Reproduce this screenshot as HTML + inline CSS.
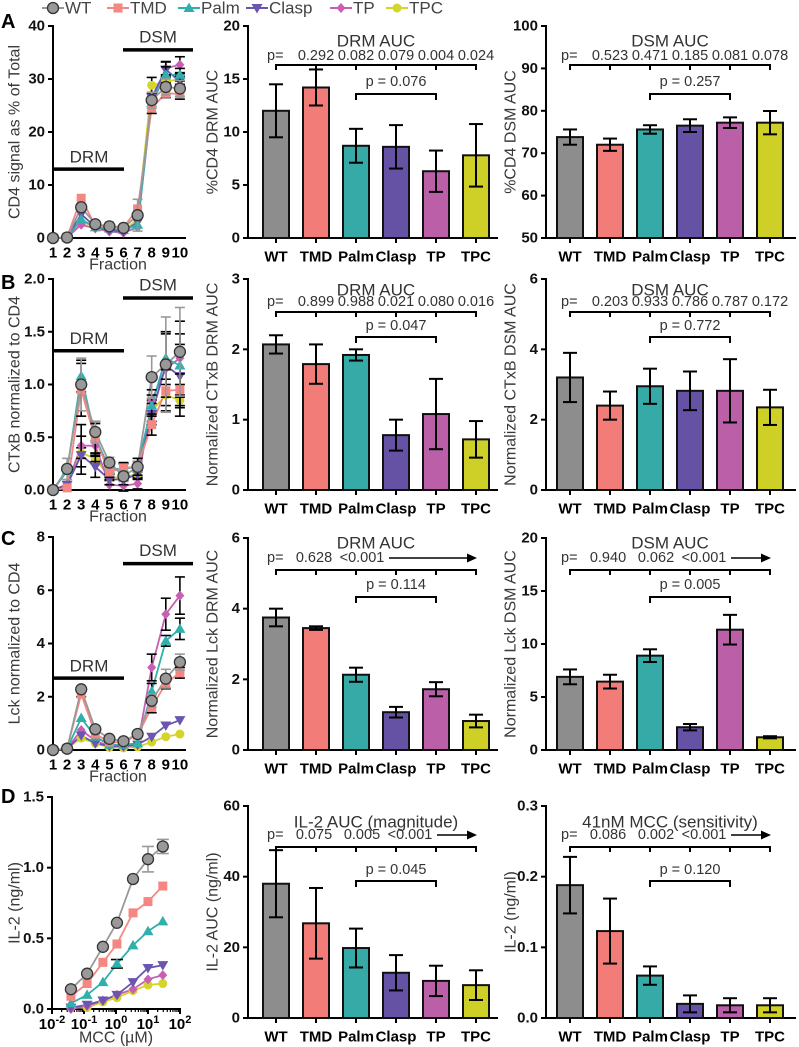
<!DOCTYPE html>
<html><head><meta charset="utf-8"><style>
body{margin:0;background:#fff}
svg{display:block;font-family:"Liberation Sans",Arial,sans-serif}
</style></head><body>
<svg id="fig" width="799" height="1047" viewBox="0 0 799 1047" xmlns="http://www.w3.org/2000/svg"></svg>
<script>
// ---------- data ----------
const groups=['WT','TMD','Palm','Clasp','TP','TPC'];
const fractions=[1,2,3,4,5,6,7,8,9,10];
const mccConc=[0.039,0.125,0.39,1.07,3.4,10,29];

const aLine=[[0,0.1,5.8,2.6,2.2,1.9,4.3,26,28.5,28.2],[0,0.2,7.5,2.3,2.3,2,5.5,24.5,27.3,27.2],[0,0.1,3.5,2,1.8,1.5,2.5,25.5,30.8,30.8],[0,0.1,4.5,2.1,1.5,1.2,3,26.5,31.8,29.5],[0,0.1,2.5,1.8,1.2,1,2,26,32,32.7],[0,0.1,3,2.2,1.8,1.4,3.5,28.8,29.5,30]];
const aLineErr=[[0,0,0.6,0,0,0,3,1.5,1.5,1.5],[0,0,0,0,0,0,0,1,0.8,1],[0,0,0,0,0,0,0,0,1.5,1.2],[0,0,0,0,0,0,0,0,1.5,1],[0,0,0,0,0,0,0,0,1.2,1.5],[0,0,0,0,0,0,0,1.5,1,1]];
const bLine=[[0,0.2,1.0,0.55,0.26,0.13,0.22,1.07,1.19,1.31],[0,0.02,0.95,0.48,0.17,0.21,0.22,0.62,0.94,0.95],[0,0.18,1.08,0.5,0.2,0.2,0.22,0.8,1.25,1.18],[0,0.05,0.33,0.22,0.1,0.1,0.15,0.72,1.18,1.08],[0,0.05,0.42,0.42,0.05,0.04,0.06,0.85,1.15,1.25],[0,0.05,0.35,0.3,0.12,0.12,0.15,0.75,0.9,0.85]];
const bLineErr=[[0,0.1,0.25,0.1,0.05,0.05,0.05,0.2,0.45,0.42],[0,0,0.25,0.15,0.05,0.05,0.08,0.1,0.2,0.15],[0,0,0.15,0.15,0.05,0.05,0.05,0.1,0.25,0.3],[0,0,0.18,0.1,0.05,0.05,0.05,0.1,0.3,0.3],[0,0,0.2,0.15,0.05,0.05,0.05,0.1,0.35,0.35],[0,0,0.05,0.05,0.03,0.03,0.03,0.1,0.15,0.15]];
const cLine=[[0,0.05,2.28,0.78,0.42,0.33,0.6,1.85,2.68,3.3],[0,0.05,2.1,0.6,0.3,0.3,0.55,1.6,2.5,2.9],[0,0.05,1.2,0.5,0.2,0.2,0.25,2.2,4.1,4.55],[0,0.05,0.55,0.25,0.15,0.15,0.2,0.5,0.92,1.12],[0,0.05,0.75,0.35,0.15,0.12,0.2,3.1,5.1,5.8],[0,0.05,0.45,0.25,0.1,0.08,0.12,0.3,0.5,0.6]];
const cLineErr=[[0,0,0.1,0.05,0.03,0.03,0.05,0.25,0.35,0.3],[0,0,0.1,0,0,0,0,0.2,0.2,0.2],[0,0,0,0,0,0,0,0.3,0.2,0.4],[0,0,0,0,0,0,0,0,0,0],[0,0,0,0,0,0,0,0.5,0.6,0.7],[0,0,0,0,0,0,0,0,0,0]];
const dLine=[[0.14,0.25,0.44,0.61,0.92,1.06,1.15],[0.09,0.18,0.33,0.46,0.68,0.76,0.87],[0.04,0.1,0.19,0.32,0.45,0.55,0.62],[0.01,0.03,0.06,0.1,0.19,0.29,0.31],[0.0,0.02,0.06,0.1,0.14,0.21,0.24],[0.01,0.01,0.05,0.08,0.13,0.17,0.18]];
const dLineErr=[[0,0,0,0,0,0.09,0.05],[0,0,0,0,0,0,0],[0,0,0,0.03,0,0,0],[0,0,0,0,0,0,0],[0,0,0,0,0,0,0],[0,0,0,0,0,0,0]];

const aMidMean=[12,14.2,8.7,8.6,6.3,7.8];   const aMidErr=[2.5,1.7,1.6,2.05,1.95,2.95];
const aRightMean=[73.8,72,75.6,76.5,77.2,77.2]; const aRightErr=[1.8,1.45,1.0,1.5,1.25,2.75];
const bMidMean=[2.07,1.79,1.92,0.78,1.08,0.72]; const bMidErr=[0.13,0.28,0.08,0.22,0.5,0.26];
const bRightMean=[3.2,2.4,2.95,2.82,2.82,2.35]; const bRightErr=[0.7,0.4,0.5,0.55,0.9,0.5];
const cMidMean=[3.75,3.45,2.13,1.07,1.72,0.82]; const cMidErr=[0.25,0.05,0.2,0.15,0.2,0.18];
const cRightMean=[6.9,6.45,8.9,2.15,11.35,1.2]; const cRightErr=[0.7,0.65,0.6,0.3,1.4,0.1];
const dMidMean=[38,26.8,19.8,12.8,10.5,9.3];   const dMidErr=[9.5,10,5.5,5,4.3,4.2];
const dRightMean=[0.188,0.123,0.06,0.02,0.018,0.018]; const dRightErr=[0.04,0.046,0.013,0.012,0.01,0.01];

const aMidP=['0.292','0.082','0.079','0.004','0.024']; const aMidP2='p = 0.076';
const aRightP=['0.523','0.471','0.185','0.081','0.078']; const aRightP2='p = 0.257';
const bMidP=['0.899','0.988','0.021','0.080','0.016']; const bMidP2='p = 0.047';
const bRightP=['0.203','0.933','0.786','0.787','0.172']; const bRightP2='p = 0.772';
const cMidP=['0.628','<0.001']; const cMidP2='p = 0.114';
const cRightP=['0.940','0.062','<0.001']; const cRightP2='p = 0.005';
const dMidP=['0.075','0.005','<0.001']; const dMidP2='p = 0.045';
const dRightP=['0.086','0.002','<0.001']; const dRightP2='p = 0.120';

// ---------- helpers ----------
const NS='http://www.w3.org/2000/svg';
const svg=document.getElementById('fig');
const barFill=['#8d8d8d','#f17c78','#36aaa7','#6552a4','#bb5fa9','#cfd027'];
const lineCol=['#999999','#f58783','#2fb0ac','#6a55b0','#c85fb4','#d4d52a'];
function mk(tag,attrs,parent){const e=document.createElementNS(NS,tag);for(const k in attrs)e.setAttribute(k,attrs[k]);(parent||svg).appendChild(e);return e;}
function txt(s,x,y,attrs,parent){const e=mk('text',Object.assign({x:x,y:y,'dominant-baseline':'central'},attrs),parent);e.textContent=s;return e;}
function line(x1,y1,x2,y2,attrs,parent){return mk('line',Object.assign({x1:x1,y1:y1,x2:x2,y2:y2,stroke:'#000','stroke-width':2},attrs),parent);}
function scaleY(lo,hi,top,bot){return v=>bot-(v-lo)/(hi-lo)*(bot-top);}

function yAxis(g,x,top,bot,lo,hi,ticks,labels){
  const sy=scaleY(lo,hi,top,bot);
  const ax=line(x,top-1,x,bot+1,{},g);
  
  
  ticks.forEach((t,i)=>{
    line(x-5,sy(t),x,sy(t),{},g);
    const l=txt(labels[i],x-8,sy(t),{'text-anchor':'end','font-size':15,'font-weight':'bold',fill:'#111'},g);
    
    
  });
  return sy;
}
function yTitle(g,s,x,cy,name){
  const t=txt(s,x,cy,{'text-anchor':'middle','font-size':16,fill:'#3a3a3a',transform:'rotate(-90 '+x+' '+cy+')'},g);
  
  
}
function marker(g,i,x,y){
  const c=lineCol[i];let m;
  if(i===0) m=mk('circle',{cx:x,cy:y,r:5.5,fill:'#999',stroke:'#333','stroke-width':1.3},g);
  else if(i===1) m=mk('rect',{x:x-4.5,y:y-4.5,width:9,height:9,fill:c},g);
  else if(i===2) m=mk('polygon',{points:`${x},${y-5.5} ${x+5.5},${y+4} ${x-5.5},${y+4}`,fill:c},g);
  else if(i===3) m=mk('polygon',{points:`${x-5.5},${y-4} ${x+5.5},${y-4} ${x},${y+5.5}`,fill:c},g);
  else if(i===4) m=mk('polygon',{points:`${x},${y-5} ${x+4.5},${y} ${x},${y+5} ${x-4.5},${y}`,fill:c},g);
  else m=mk('circle',{cx:x,cy:y,r:4.5,fill:c},g);
  
  
}

// ---------- legend ----------
const legG=mk('g',{});


const legX=[42,107,178,246,330,386];
groups.forEach((gname,i)=>{
  const eg=mk('g',{},legG);
  
  
  line(legX[i],8,legX[i]+22,8,{stroke:lineCol[i],'stroke-width':2},eg);
  marker(eg,i,legX[i]+11,8);
  txt(gname,legX[i]+23,8,{'font-size':17,fill:'#444'},eg);
});

// ---------- panel letters ----------
[['A',22],['B',283],['C',539],['D',797]].forEach(([s,y])=>{
  const t=txt(s,1,y,{'font-size':20,'font-weight':'bold'});
  
  
});

// ---------- fraction line plots ----------
function fracPanel(name,top,bot,hi,ticks,labels,data,err,ytitle,drmV,dsmV){
  const g=mk('g',{});
  
  
  const sy=yAxis(g,53,top,bot,0,hi,ticks,labels);
  const sx=f=>53+(f-1)*14.1;
  line(53,bot,186,bot,{},g);
  fractions.forEach(f=>{
    const l=txt(String(f),sx(f),bot+15,{'text-anchor':'middle','font-size':15,'font-weight':'bold'},g);
    
    
  });
  const xt=txt('Fraction',118,bot+27,{'text-anchor':'middle','font-size':16,fill:'#3a3a3a'},g);
  
  
  yTitle(g,ytitle,15,(top+bot)/2,'y-axis-title');
  const d=line(54,sy(drmV),124,sy(drmV),{'stroke-width':3.5},g);
  
  
  txt('DRM',89,sy(drmV)-12,{'text-anchor':'middle','font-size':17,fill:'#333'},g);
  const s=line(123,sy(dsmV),193,sy(dsmV),{'stroke-width':3.5},g);
  
  
  txt('DSM',158,sy(dsmV)-13,{'text-anchor':'middle','font-size':17,fill:'#333'},g);
  for(let i=data.length-1;i>=0;i--){
    const pts=data[i].map((v,j)=>sx(fractions[j])+','+sy(v)).join(' ');
    const pl=mk('polyline',{points:pts,fill:'none',stroke:lineCol[i],'stroke-width':1.8},g);
    
    
  }
  for(let i=data.length-1;i>=0;i--){
    data[i].forEach((v,j)=>{
      const e=err[i][j]; if(!e) return;
      const x=sx(fractions[j]), c=i===0?'#999':'#000';
      line(x,sy(v+e),x,sy(v-e),{stroke:c,'stroke-width':1.6},g);
      line(x-5,sy(v+e),x+5,sy(v+e),{stroke:c,'stroke-width':1.6},g);
      line(x-5,sy(v-e),x+5,sy(v-e),{stroke:c,'stroke-width':1.6},g);
    });
    data[i].forEach((v,j)=>marker(g,i,sx(fractions[j]),sy(v)));
  }
}
fracPanel('panel-a-cd4-fractions',26,238,40,[0,10,20,30,40],['0','10','20','30','40'],aLine,aLineErr,'CD4 signal as % of Total',13,35.5);
fracPanel('panel-b-ctxb-fractions',279,490,2,[0,0.5,1,1.5,2],['0.0','0.5','1.0','1.5','2.0'],bLine,bLineErr,'CTxB normalized to CD4',1.32,1.82);
fracPanel('panel-c-lck-fractions',537,750,8,[0,2,4,6,8],['0','2','4','6','8'],cLine,cLineErr,'Lck normalized to CD4',2.7,7.0);

// ---------- D dose response ----------
(function(){
  const g=mk('g',{});
  
  
  const top=797,bot=1009;
  const sy=yAxis(g,52,top,bot,0,1.5,[0,0.5,1,1.5],['0.0','0.5','1.0','1.5']);
  const sx=c=>52+(Math.log10(c)+2)*32;
  line(52,bot,181,bot,{},g);
  for(let e=-2;e<=2;e++){
    const x=sx(Math.pow(10,e));
    line(x,bot,x,bot+5,{},g);
    const t=mk('text',{x:x,y:bot+20,'text-anchor':'middle','font-size':15,'font-weight':'bold'},g);
    
    
    t.innerHTML='10<tspan dy="-6" font-size="11">'+e+'</tspan>';
    if(e<2) for(let k=2;k<10;k++){const xm=sx(k*Math.pow(10,e));line(xm,bot,xm,bot+3,{'stroke-width':1.2},g);}
  }
  const xt=txt('MCC (\u00b5M)',116,bot+29,{'text-anchor':'middle','font-size':16,fill:'#3a3a3a'},g);
  
  
  yTitle(g,'IL-2 (ng/ml)',15,(top+bot)/2,'y-axis-title');
  for(let i=dLine.length-1;i>=0;i--){
    const pts=dLine[i].map((v,j)=>sx(mccConc[j])+','+sy(v)).join(' ');
    const pl=mk('polyline',{points:pts,fill:'none',stroke:lineCol[i],'stroke-width':1.8},g);
    
    
  }
  for(let i=dLine.length-1;i>=0;i--){
    dLine[i].forEach((v,j)=>{
      const e=dLineErr[i][j]; if(!e) return;
      const x=sx(mccConc[j]), c=i===0?'#999':'#000';
      line(x,sy(v+e),x,sy(v-e),{stroke:c,'stroke-width':1.6},g);
      line(x-6,sy(v+e),x+6,sy(v+e),{stroke:c,'stroke-width':1.6},g);
      line(x-6,sy(v-e),x+6,sy(v-e),{stroke:c,'stroke-width':1.6},g);
    });
    dLine[i].forEach((v,j)=>marker(g,i,sx(mccConc[j]),sy(v)));
  }
})();

// ---------- bar panels ----------
function barPanel(name,axisX,firstC,top,bot,lo,hi,ticks,labels,means,errs,title,ytitle,titleX,pv,p2,off){
  const g=mk('g',{});
  
  
  const sy=yAxis(g,axisX,top,bot,lo,hi,ticks,labels);
  const cx=i=>firstC+40*i;
  line(axisX,bot,axisX+250,bot,{},g);
  yTitle(g,ytitle,titleX,(top+bot)/2,'y-axis-title');
  means.forEach((m,i)=>{
    const x=cx(i);
    const b=mk('rect',{x:x-13,y:sy(m),width:26,height:bot-sy(m),fill:barFill[i],stroke:'#111','stroke-width':2},g);
    
    
    const e=errs[i];
    line(x,sy(m+e),x,sy(Math.max(lo,m-e)),{},g);
    line(x-7,sy(m+e),x+7,sy(m+e),{},g);
    line(x-7,sy(Math.max(lo,m-e)),x+7,sy(Math.max(lo,m-e)),{},g);
    line(x,bot,x,bot+5,{},g);
    const l=txt(groups[i],x,bot+19,{'text-anchor':'middle','font-size':15,'font-weight':'bold'},g);
    
    
  });
  const t=txt(title,(cx(0)+cx(5))/2,top+off[0],{'text-anchor':'middle','font-size':17,fill:'#333'},g);
  
  
  const pr=top+off[1];
  txt('p=',cx(0)-9,pr,{'text-anchor':'start','font-size':14.5,fill:'#333'},g);
  if(pv.length===5){
    pv.forEach((s,i)=>txt(s,cx(i+1),pr,{'text-anchor':'middle','font-size':14.5,fill:'#333'},g));
  } else {
    pv.forEach((s,i)=>txt(s,cx(0)+38+48*i,pr,{'text-anchor':'middle','font-size':14.5,fill:'#333'},g));
    const ax0=cx(0)+38+48*(pv.length-1)+27, ax1=cx(5);
    const ar=line(ax0,pr,ax1-7,pr,{'stroke-width':1.4},g);
    
    
    mk('polygon',{points:`${ax1+1},${pr} ${ax1-9},${pr-4.5} ${ax1-9},${pr+4.5}`,fill:'#000'},g);
  }
  const br=top+off[2];
  const b1=line(cx(0),br,cx(5),br,{},g);
  
  
  for(let i=0;i<6;i++) line(cx(i),br-1,cx(i),br+5,{},g);
  txt(p2,(cx(2)+cx(4))/2,top+off[3],{'text-anchor':'middle','font-size':14.5,fill:'#333'},g);
  const b2y=top+off[4];
  const b2=line(cx(2),b2y,cx(4),b2y,{},g);
  
  
  line(cx(2),b2y-1,cx(2),b2y+6,{},g); line(cx(4),b2y-1,cx(4),b2y+6,{},g);
}
const offA=[15,30,39,56,68], offB=[11,23,33,47,58], offC=[5,20,32,47,59], offD=[16,29,41,64,75];
barPanel('panel-a-drm-auc',248,276,26,238,0,20,[0,5,10,15,20],['0','5','10','15','20'],aMidMean,aMidErr,'DRM AUC','%CD4 DRM AUC',213,aMidP,aMidP2,offA);
barPanel('panel-a-dsm-auc',546,570,26,238,50,100,[50,60,70,80,90,100],['50','60','70','80','90','100'],aRightMean,aRightErr,'DSM AUC','%CD4 DSM AUC',511,aRightP,aRightP2,offA);
barPanel('panel-b-drm-auc',248,276,279,490,0,3,[0,1,2,3],['0','1','2','3'],bMidMean,bMidErr,'DRM AUC','Normalized CTxB DRM AUC',213,bMidP,bMidP2,offB);
barPanel('panel-b-dsm-auc',546,570,279,490,0,6,[0,2,4,6],['0','2','4','6'],bRightMean,bRightErr,'DSM AUC','Normalized CTxB DSM AUC',511,bRightP,bRightP2,offB);
barPanel('panel-c-drm-auc',248,276,538,750,0,6,[0,2,4,6],['0','2','4','6'],cMidMean,cMidErr,'DRM AUC','Normalized Lck DRM AUC',213,cMidP,cMidP2,offC);
barPanel('panel-c-dsm-auc',546,570,538,750,0,20,[0,5,10,15,20],['0','5','10','15','20'],cRightMean,cRightErr,'DSM AUC','Normalized Lck DSM AUC',511,cRightP,cRightP2,offC);
barPanel('panel-d-il2-auc',248,276,806,1018,0,60,[0,20,40,60],['0','20','40','60'],dMidMean,dMidErr,'IL-2 AUC (magnitude)','IL-2 AUC (ng/ml)',213,dMidP,dMidP2,offD);
barPanel('panel-d-41nm-mcc',546,570,806,1018,0,0.3,[0,0.1,0.2,0.3],['0.0','0.1','0.2','0.3'],dRightMean,dRightErr,'41nM MCC (sensitivity)','IL-2 (ng/ml)',511,dRightP,dRightP2,offD);
</script>
</body></html>
